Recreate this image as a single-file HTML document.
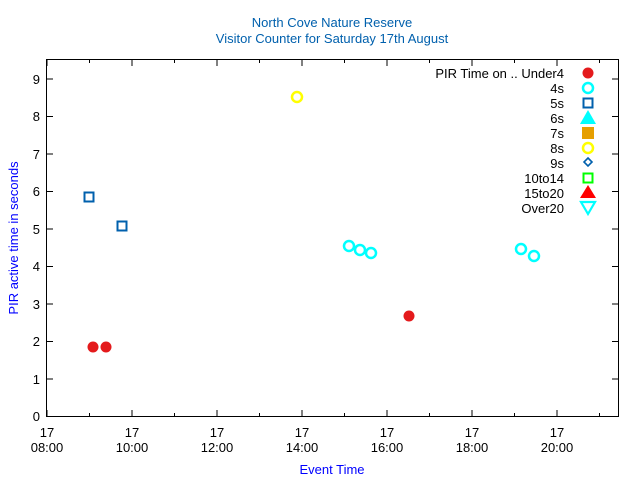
<!DOCTYPE html>
<html><head><style>body{margin:0;background:#fff}</style></head><body>
<svg width="640" height="480" xmlns="http://www.w3.org/2000/svg" font-family="Liberation Sans, sans-serif" font-size="13">
<rect width="640" height="480" fill="#fff"/>
<text x="332" y="27" text-anchor="middle" fill="#0060ad">North Cove Nature Reserve</text>
<text x="332" y="43" text-anchor="middle" fill="#0060ad">Visitor Counter for Saturday 17th August</text>
<rect x="46.5" y="59.5" width="572" height="357" fill="none" stroke="#000" stroke-width="1"/>
<g stroke="#000">
<path d="M47 79h6M47 116.5h6M47 154h6M47 191.5h6M47 229h6M47 266.5h6M47 304h6M47 341.5h6M47 379h6M618 79h-6M618 116.5h-6M618 154h-6M618 191.5h-6M618 229h-6M618 266.5h-6M618 304h-6M618 341.5h-6M618 379h-6"/>
<path d="M47 416v-6M132 416v-6M217 416v-6M302 416v-6M387 416v-6M472 416v-6M557 416v-6M89.5 416v-3M174.5 416v-3M259.5 416v-3M344.5 416v-3M429.5 416v-3M514.5 416v-3M599.5 416v-3"/>
<path d="M47 60v6M132 60v6M217 60v6M302 60v6M387 60v6M472 60v6M557 60v6M89.5 60v3M174.5 60v3M259.5 60v3M344.5 60v3M429.5 60v3M514.5 60v3M599.5 60v3"/>
</g>
<g text-anchor="end">
<text x="40" y="421">0</text><text x="40" y="384">1</text><text x="40" y="346">2</text><text x="40" y="309">3</text><text x="40" y="271">4</text><text x="40" y="234">5</text><text x="40" y="196">6</text><text x="40" y="159">7</text><text x="40" y="121">8</text><text x="40" y="84">9</text>
</g>
<g text-anchor="middle">
<text x="47" y="437">17</text><text x="47" y="452">08:00</text>
<text x="132" y="437">17</text><text x="132" y="452">10:00</text>
<text x="217" y="437">17</text><text x="217" y="452">12:00</text>
<text x="302" y="437">17</text><text x="302" y="452">14:00</text>
<text x="387" y="437">17</text><text x="387" y="452">16:00</text>
<text x="472" y="437">17</text><text x="472" y="452">18:00</text>
<text x="557" y="437">17</text><text x="557" y="452">20:00</text>
<text x="332" y="474" fill="#0000ff">Event Time</text>
<text transform="translate(18,238) rotate(-90)" fill="#0000ff">PIR active time in seconds</text>
</g>
<g text-anchor="end">
<text x="564" y="78">PIR Time on .. Under4</text>
<text x="564" y="93">4s</text><text x="564" y="108">5s</text><text x="564" y="123">6s</text><text x="564" y="138">7s</text><text x="564" y="153">8s</text><text x="564" y="168">9s</text><text x="564" y="183">10to14</text><text x="564" y="198">15to20</text><text x="564" y="213">Over20</text>
</g>
<circle cx="588" cy="73" r="5.5" fill="#e41a1c"/>
<circle cx="588" cy="88" r="5" fill="none" stroke="#00ffff" stroke-width="2.5"/>
<rect x="583.5" y="98.5" width="9" height="9" fill="none" stroke="#0060ad" stroke-width="2"/>
<path d="M588 110l8 14h-16z" fill="#00ffff"/>
<rect x="582" y="127" width="12" height="12" fill="#e69f00"/>
<circle cx="588" cy="148" r="5" fill="none" stroke="#ffff00" stroke-width="2.5"/>
<path d="M588 158l4 4-4 4-4-4z" fill="none" stroke="#0060ad" stroke-width="1.6"/>
<rect x="583.5" y="173.5" width="9" height="9" fill="none" stroke="#00ff00" stroke-width="2"/>
<path d="M588 185l8 13h-16z" fill="#ff0000"/>
<path d="M581 202h14l-7 12z" fill="none" stroke="#00ffff" stroke-width="2.2"/>
<g fill="#e41a1c"><circle cx="93" cy="347" r="5.5"/><circle cx="106" cy="347" r="5.5"/><circle cx="409" cy="316" r="5.5"/></g>
<g fill="none" stroke="#0060ad" stroke-width="2"><rect x="84.5" y="192.5" width="9" height="9"/><rect x="117.5" y="221.5" width="9" height="9"/></g>
<g fill="none" stroke="#00ffff" stroke-width="2.5"><circle cx="349" cy="246" r="5"/><circle cx="360" cy="250" r="5"/><circle cx="371" cy="253" r="5"/><circle cx="521" cy="249" r="5"/><circle cx="534" cy="256" r="5"/></g>
<circle cx="297" cy="97" r="5" fill="none" stroke="#ffff00" stroke-width="2.5"/>
</svg>
</body></html>
